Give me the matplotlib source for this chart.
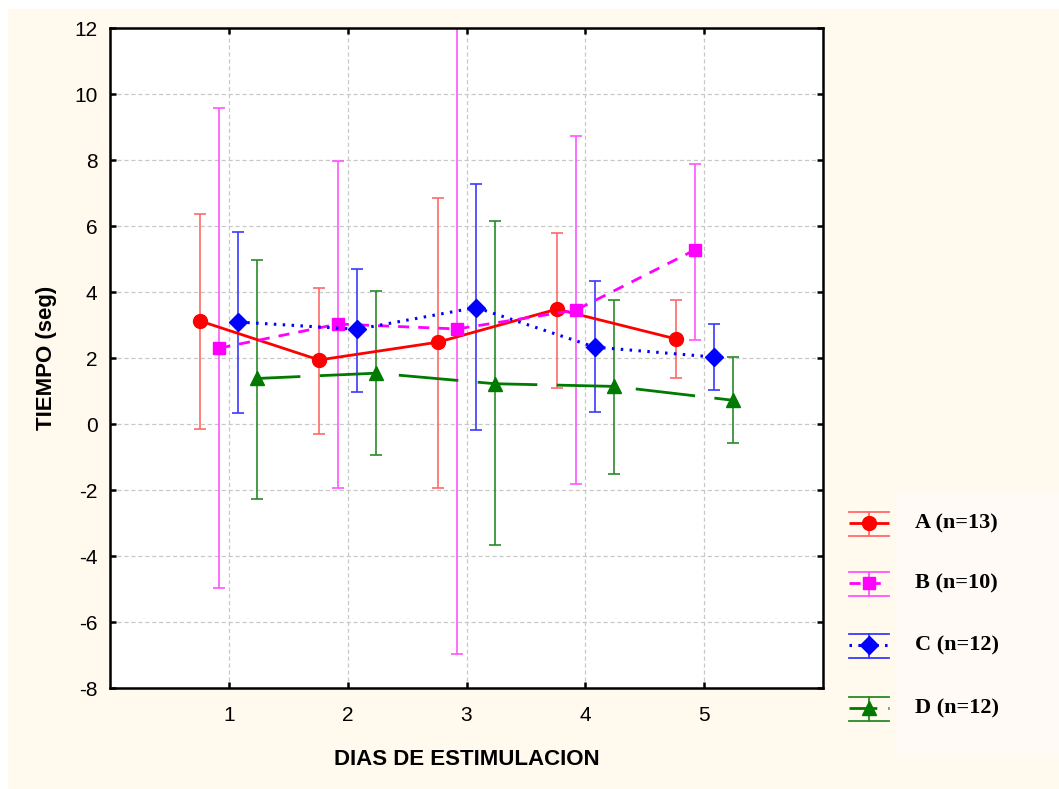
import matplotlib.pyplot as plt
from matplotlib.patches import Rectangle

plt.rcParams['lines.scale_dashes'] = False
plt.rcParams['axes.unicode_minus'] = False

days = [1, 2, 3, 4, 5]
day_ticks = [1, 2, 3, 4, 5]
y_ticks = [-8, -6, -4, -2, 0, 2, 4, 6, 8, 10, 12]

groups = ["A (n=13)", "B (n=10)", "C (n=12)", "D (n=12)"]
offsets = [-0.24, -0.08, 0.08, 0.24]

a_mean = [3.12, 1.94, 2.48, 3.48, 2.58]
a_low = [-0.15, -0.30, -1.93, 1.10, 1.38]
a_high = [6.35, 4.12, 6.86, 5.80, 3.76]

b_mean = [2.30, 3.03, 2.88, 3.45, 5.27]
b_low = [-4.98, -1.93, -6.96, -1.82, 2.55]
b_high = [9.58, 7.98, 12.7, 8.72, 7.88]

c_mean = [3.09, 2.87, 3.53, 2.33, 2.03]
c_low = [0.33, 0.96, -0.19, 0.37, 1.03]
c_high = [5.83, 4.70, 7.26, 4.34, 3.03]

d_mean = [1.38, 1.54, 1.22, 1.14, 0.72]
d_low = [-2.28, -0.94, -3.67, -1.50, -0.58]
d_high = [4.98, 4.02, 6.15, 3.76, 2.04]

series = [
    (a_mean, a_low, a_high, "#ff0000", "#ff6a6a", "o", 10, (0, ()), 2.0),
    (b_mean, b_low, b_high, "#ff00ff", "#ff55ff", "s", 9, (0, (8, 6.5)), 2.0),
    (c_mean, c_low, c_high, "#0000ff", "#3a3aff", "D", 9, (0, (1.8, 4.6)), 2.2),
    (d_mean, d_low, d_high, "#007a00", "#2a8a2a", "^", 10, (12, (43, 14)), 2.0),
]

fig = plt.figure(figsize=(10.59, 7.89), dpi=100, facecolor="white")
fig.patches.append(Rectangle((8 / 1059, 0), 1, 1 - 9 / 789, transform=fig.transFigure,
                             facecolor="#fff9ee", edgecolor="none", zorder=-10))
fig.patches.append(Rectangle((896 / 1059, 1 - 753 / 789), 163 / 1059, 260 / 789,
                             transform=fig.transFigure, facecolor="#fffaf6",
                             edgecolor="none", zorder=-9))

ax = fig.add_axes([110 / 1059, 1 - 688 / 789, 713 / 1059, 660 / 789])
ax.set_facecolor("white")

for (mean, low, high, col, ecol, mk, ms, ls, lw), off in zip(series, offsets):
    xs = [d + off for d in days]
    yerr = [[m - l for m, l in zip(mean, low)], [h - m for m, h in zip(mean, high)]]
    ax.errorbar(xs, mean, yerr=yerr, fmt="none", ecolor=ecol, elinewidth=1.2,
                capsize=4.3, capthick=1.2, zorder=2)
    ax.plot(xs, mean, color=col, linestyle=ls, linewidth=lw, marker=mk,
            markersize=ms, markeredgecolor=col, markerfacecolor=col, zorder=3)

ax.set_xlim(0, 6)
ax.set_ylim(-8, 12)
ax.set_xticks(day_ticks)
ax.set_yticks(y_ticks)
ax.grid(True, color="#c8c8c8", linestyle=(0, (3, 2)), linewidth=0.9)
ax.set_axisbelow(True)
for s in ax.spines.values():
    s.set_linewidth(1.8)
ax.tick_params(direction="in", length=4, width=1.8, top=True, right=True,
               labelsize=15)
ax.tick_params(axis="x", pad=13)
ax.tick_params(axis="y", pad=9)
for lab in ax.get_xticklabels() + ax.get_yticklabels():
    lab.set_family(["Liberation Sans", "DejaVu Sans"])

ax.set_xlabel("DIAS DE ESTIMULACION", fontsize=16, fontweight="bold",
              family=["Liberation Sans", "DejaVu Sans"], labelpad=17)
ax.set_ylabel("TIEMPO (seg)", fontsize=16, fontweight="bold",
              family=["Liberation Sans", "DejaVu Sans"], labelpad=12)

# legend drawn in pixel space
lg = fig.add_axes([0, 0, 1, 1], facecolor="none")
lg.set_xlim(0, 1059)
lg.set_ylim(789, 0)
lg.axis("off")
leg_y = [523, 583, 645, 708]
for (mean, low, high, col, ecol, mk, ms, ls, lw), name, yy in zip(series, groups, leg_y):
    lg.plot([849, 889], [yy - 11, yy - 11], color=ecol, linewidth=1.3)
    lg.plot([849, 889], [yy + 13, yy + 13], color=ecol, linewidth=1.3)
    lg.plot([869, 869], [yy - 11, yy + 13], color=ecol, linewidth=1.3)
    lg.plot([849, 889], [yy, yy], color=col, linestyle=ls if mk != "^" else (0, (20, 8)),
            linewidth=lw)
    lg.plot([869], [yy], marker=mk, markersize=ms, color=col)
    lg.text(915, yy, name, fontsize=16, fontweight="bold",
            family=["Liberation Serif", "DejaVu Serif"], va="center", ha="left")

fig.savefig("out.png", dpi=100, facecolor=fig.get_facecolor())
